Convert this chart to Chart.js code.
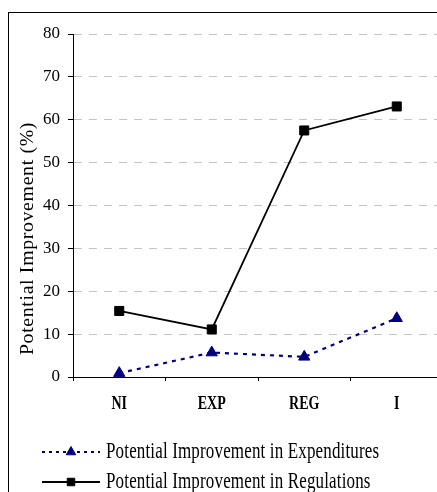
<!DOCTYPE html>
<html><head><meta charset="utf-8">
<script src="https://cdn.jsdelivr.net/npm/chart.js@4"></script>
<style>
html,body{margin:0;padding:0;width:437px;height:492px;overflow:hidden;background:#fff;}
#frame{position:absolute;left:8px;top:12px;width:600px;height:600px;border:1px solid #000;box-sizing:border-box;}
#c{position:absolute;left:0;top:0;width:460px;height:492px;}
</style></head><body>
<div id="frame"></div>
<canvas id="c" width="460" height="492"></canvas>
<script>
const categories = ['NI', 'EXP', 'REG', 'I'];
const expenditures = [0.9, 5.7, 4.7, 13.7];
const regulations = [15.4, 11.1, 57.5, 63.1];
const seriesNames = ['Potential Improvement in Expenditures', 'Potential Improvement in Regulations'];
const yTitle = 'Potential Improvement (%)';
const yTicks = [0, 10, 20, 30, 40, 50, 60, 70, 80];

const SERIF = "'Liberation Serif', 'Times New Roman', serif";
Chart.defaults.font.family = SERIF;
Chart.defaults.color = '#000';

const legendStyles = [
  {dash: [3, 4], point: 'triangle', r: 5.5, color: '#000080', width: 2},
  {dash: [], point: 'rect', r: 5.3, color: '#000', width: 2}
];

// category labels in the reference are drawn tall and narrow
const tallText = {
  id: 'tallText',
  beforeDraw(chart) {
    const ctx = chart.ctx;
    if (ctx._tallPatched) return;
    ctx._tallPatched = true;
    const orig = ctx.fillText;
    ctx.fillText = function (text, x, y, maxWidth) {
      if (categories.includes(text)) {
        this.save();
        this.translate(x, y);
        this.scale(1, 1.4);
        if (maxWidth === undefined) orig.call(this, text, 0, 0);
        else orig.call(this, text, 0, 0, maxWidth);
        this.restore();
      } else {
        if (maxWidth === undefined) orig.call(this, text, x, y);
        else orig.call(this, text, x, y, maxWidth);
      }
    };
  }
};

const customDraw = {
  id: 'customDraw',
  afterDraw(chart) {
    const ctx = chart.ctx;
    // y axis title
    ctx.save();
    ctx.translate(28, 238.5);
    ctx.scale(1, 1.1);
    ctx.rotate(-Math.PI / 2);
    ctx.font = "18px " + SERIF;
    ctx.letterSpacing = '0.6px';
    ctx.fillStyle = '#000';
    ctx.textAlign = 'center';
    ctx.textBaseline = 'middle';
    ctx.fillText(yTitle, 0, 0);
    ctx.restore();
    // legend
    const ys = [452, 482];
    chart.data.datasets.forEach((ds, i) => {
      const st = legendStyles[i];
      const y = ys[i];
      ctx.save();
      ctx.strokeStyle = st.color;
      ctx.lineWidth = st.width;
      ctx.setLineDash(st.dash);
      ctx.beginPath();
      ctx.moveTo(42, y);
      ctx.lineTo(100, y);
      ctx.stroke();
      ctx.setLineDash([]);
      ctx.fillStyle = st.color;
      ctx.strokeStyle = st.color;
      ctx.lineWidth = 1;
      Chart.helpers.drawPoint(ctx, {pointStyle: st.point, radius: st.r, rotation: 0, borderWidth: 1}, 71, y);
      ctx.restore();
      ctx.save();
      ctx.font = "17px " + SERIF;
      ctx.letterSpacing = '0.15px';
      ctx.fillStyle = '#000';
      ctx.textAlign = 'left';
      ctx.textBaseline = 'middle';
      ctx.translate(106, y + 0.5);
      ctx.scale(1, 1.33);
      ctx.fillText(ds.label, 0, 0);
      ctx.restore();
    });
  }
};

new Chart(document.getElementById('c'), {
  type: 'line',
  data: {
    labels: categories,
    datasets: [
      {
        label: seriesNames[0],
        data: expenditures,
        borderColor: '#000080',
        backgroundColor: '#000080',
        borderWidth: 2.2,
        borderDash: [4, 5],
        pointStyle: 'triangle',
        pointRadius: 6.5,
        pointBorderWidth: 1,
        tension: 0,
        fill: false
      },
      {
        label: seriesNames[1],
        data: regulations,
        borderColor: '#000',
        backgroundColor: '#000',
        borderWidth: 1.8,
        pointStyle: 'rect',
        pointRadius: 6.4,
        pointBorderWidth: 1,
        tension: 0,
        fill: false
      }
    ]
  },
  options: {
    responsive: false,
    animation: false,
    devicePixelRatio: 1,
    layout: {padding: {top: 34, right: 17, bottom: 0, left: 0}},
    plugins: {legend: {display: false}, tooltip: {enabled: false}},
    scales: {
      x: {
        type: 'category',
        offset: true,
        afterFit(scale) { scale.height = 115; },
        grid: {display: true, drawOnChartArea: false, offset: true, tickLength: 4, tickColor: '#000', tickWidth: 1},
        border: {display: true, color: '#000', width: 1},
        ticks: {font: {size: 14, weight: 'bold'}, color: '#000', padding: 15, maxRotation: 0}
      },
      y: {
        min: 0,
        max: 80,
        afterFit(scale) { scale.width = 73; },
        afterBuildTicks(scale) { scale.ticks = yTicks.map(v => ({value: v})); },
        grid: {color: '#c4c4c4', lineWidth: 1, tickLength: 5, tickColor: '#000', tickWidth: 1, tickBorderDash: []},
        border: {display: true, color: '#000', width: 1, dash: [8, 7]},
        ticks: {font: {size: 17}, color: '#000', padding: 8}
      }
    }
  },
  plugins: [tallText, customDraw]
});
</script>
</body></html>
